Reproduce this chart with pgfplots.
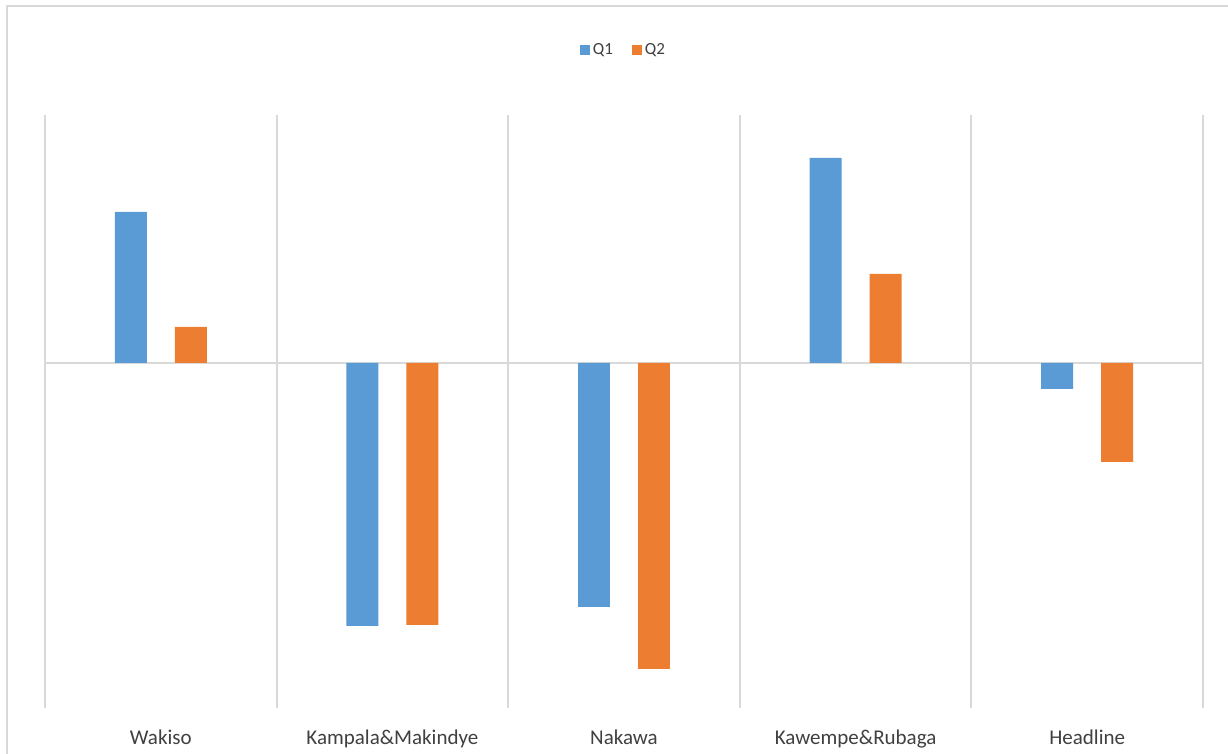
\documentclass[border=0pt]{standalone}
\usepackage{fontspec}
\setmainfont{Carlito}
\usepackage{pgfplots}
\pgfplotsset{compat=1.18}

\definecolor{qblue}{HTML}{5B9BD5}
\definecolor{qorange}{HTML}{ED7D31}
\definecolor{gridgray}{HTML}{D9D9D9}
\definecolor{txtgray}{HTML}{404040}

\begin{document}
\begin{tikzpicture}
    % page is 1228 x 754 px at 0.5pt per px
    \useasboundingbox (0,0) rectangle (614pt,377pt);
    \fill[white] (0,0) rectangle (614pt,377pt);
    \draw[gridgray, line width=1pt] (3.25pt,-20pt) -- (3.25pt,374pt) -- (640pt,374pt);

    \begin{axis}[
        at={(22.5pt,23pt)},
        anchor=south west,
        scale only axis,
        width=579pt,
        height=296.5pt,
        xmin=-0.5, xmax=4.5,
        ymin=-3.45, ymax=2.48,
        axis line style={draw=none},
        xtick={0,1,2,3,4},
        xticklabels={Wakiso, Kampala\&Makindye, Nakawa, Kawempe\&Rubaga, Headline},
        xticklabel style={anchor=base, yshift=-18.5pt, font=\fontsize{10.5}{12}\selectfont, text=txtgray},
        minor xtick={-0.5,0.5,1.5,2.5,3.5,4.5},
        xminorgrids=true,
        minor x grid style={gridgray, line width=1pt},
        ytick=\empty,
        extra y ticks={0},
        extra y tick labels={},
        extra y tick style={grid=major, major grid style={gridgray, line width=1pt}},
        tick style={draw=none},
        bar width=0.138,
        legend columns=2,
        legend style={at={(0.5,1.1096)}, anchor=center, draw=none, fill=none,
            font=\fontsize{8.5}{10}\selectfont, text=txtgray,
            /tikz/every even column/.append style={column sep=8pt},
            nodes={inner sep=1.5pt}},
        legend image code/.code={\fill[#1, draw=none] (0pt,-2.5pt) rectangle (5pt,2.5pt);},
    ]
        % Q1
        \addplot[ybar, bar shift=-0.1295, fill=qblue, draw=none] coordinates {
            (0,1.51) (1,-2.63) (2,-2.44) (3,2.05) (4,-0.26)};
        % Q2
        \addplot[ybar, bar shift=0.1295, fill=qorange, draw=none] coordinates {
            (0,0.36) (1,-2.62) (2,-3.06) (3,0.89) (4,-0.99)};
        \legend{Q1, Q2}
    \end{axis}
\end{tikzpicture}
\end{document}
